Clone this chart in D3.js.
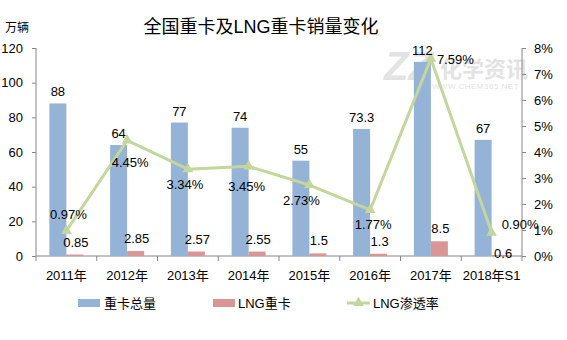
<!DOCTYPE html>
<html><head><meta charset="utf-8">
<script src="https://cdn.jsdelivr.net/npm/d3@7"></script>
<style>
html,body{margin:0;padding:0;background:#fff;}
svg{display:block;font-family:"Liberation Sans",Arial,"Noto Sans CJK SC",sans-serif;}
</style></head>
<body><svg id="c" width="567" height="340"></svg>
<script>
const categories = ["2011年","2012年","2013年","2014年","2015年","2016年","2017年","2018年S1"];
const totalSales = [88,64,77,74,55,73.3,112,67];
const lngSales = [0.85,2.85,2.57,2.55,1.5,1.3,8.5,0.6];
const lngRate = [0.97,4.45,3.34,3.45,2.73,1.77,7.59,0.90];
const leftTicks = [0,20,40,60,80,100,120];
const rightTicks = [0,1,2,3,4,5,6,7,8];
const seriesNames = ["重卡总量","LNG重卡","LNG渗透率"];

const svg = d3.select("#c");
const L = 36, R = 522, T = 48, B = 256;
const blue = "#95B3D7", red = "#D99694", green = "#C3D69B", axisC = "#868686";

const x = d3.scaleBand().domain(categories).range([L, R]).padding(0);
const yL = d3.scaleLinear().domain([0,120]).range([B, T]);
const yR = d3.scaleLinear().domain([0,8]).range([B, T]);
const bw = 17;

// watermark
const wm = svg.append("g").attr("fill","#e3e3e3");
wm.append("text").attr("x",384).attr("y",80).attr("font-size",40).attr("font-weight","bold").attr("font-style","italic").text("ZZ");
wm.append("text").attr("x",440).attr("y",77).attr("font-size",22).attr("font-weight","bold").text("化学资讯");
wm.append("text").attr("x",432).attr("y",89).attr("font-size",8).attr("letter-spacing","0.5").text("WWW.CHEM365.NET");

// title
svg.append("text").attr("x",261).attr("y",33).attr("text-anchor","middle").attr("font-size",18).attr("fill","#000").text("全国重卡及LNG重卡销量变化");
svg.append("text").attr("x",5).attr("y",32).attr("font-size",12).attr("fill","#000").text("万辆");

// axes
const axL = svg.append("g").attr("transform",`translate(${L},0)`)
  .call(d3.axisLeft(yL).tickValues(leftTicks).tickSize(4).tickPadding(9).tickFormat(d3.format("d")));
const axR = svg.append("g").attr("transform",`translate(${R},0)`)
  .call(d3.axisRight(yR).tickValues(rightTicks).tickSize(4).tickPadding(8).tickFormat(d=>d+"%"));
[axL,axR].forEach(a=>{
  a.select(".domain").attr("stroke",axisC).attr("d",`M0,${T}V${B}`);
  a.selectAll(".tick line").attr("stroke",axisC);
  a.selectAll("text").attr("font-size",13).attr("fill","#000").attr("font-family",null);
});
// x axis
const axX = svg.append("g").attr("transform",`translate(0,${B})`);
axX.append("line").attr("x1",L).attr("x2",R).attr("stroke",axisC);
const bounds = categories.map(c=>x(c)).concat([R]);
axX.selectAll("line.tk").data(bounds).enter().append("line").attr("class","tk")
  .attr("x1",d=>d).attr("x2",d=>d).attr("y1",0).attr("y2",5).attr("stroke",axisC);
axX.selectAll("text").data(categories).enter().append("text")
  .attr("x",d=>x(d)+x.bandwidth()/2).attr("y",24).attr("text-anchor","middle")
  .attr("font-size",13).attr("fill","#000").text(d=>d);

// bars
const cx = c => x(c)+x.bandwidth()/2;
svg.selectAll("rect.b").data(totalSales).enter().append("rect").attr("class","b")
  .attr("x",(d,i)=>cx(categories[i])-bw).attr("width",bw)
  .attr("y",d=>yL(d)).attr("height",d=>B-yL(d)).attr("fill",blue);
svg.selectAll("rect.r").data(lngSales).enter().append("rect").attr("class","r")
  .attr("x",(d,i)=>cx(categories[i])).attr("width",bw)
  .attr("y",d=>yL(d)).attr("height",d=>B-yL(d)).attr("fill",red);

// line
const line = d3.line().x((d,i)=>cx(categories[i])).y(d=>yR(d));
svg.append("path").datum(lngRate).attr("d",line).attr("fill","none").attr("stroke",green).attr("stroke-width",3).attr("stroke-linejoin","round");
const tri = d3.symbol().type(d3.symbolTriangle).size(50);
svg.selectAll("path.m").data(lngRate).enter().append("path").attr("class","m")
  .attr("d",tri).attr("fill",green)
  .attr("transform",(d,i)=>`translate(${cx(categories[i])},${yR(d)})`);

// labels
svg.selectAll("text.bl").data(totalSales).enter().append("text").attr("class","bl")
  .attr("x",(d,i)=>cx(categories[i])-bw/2).attr("y",d=>yL(d)-7)
  .attr("text-anchor","middle").attr("font-size",13).attr("fill","#000").text(d=>d);
svg.selectAll("text.rl").data(lngSales).enter().append("text").attr("class","rl")
  .attr("x",(d,i)=>cx(categories[i])+bw/2+(i===7?3:1)).attr("y",(d,i)=>i===7?yL(d)+3:yL(d)-8)
  .attr("text-anchor","middle").attr("font-size",13).attr("fill","#000").text(d=>d);
const ldx = [2,3,-3,-2,-8,3,6,10];
const ldy = [-12,27,20,25,20,19,5,-4];
const lanc = ["middle","middle","middle","middle","middle","middle","start","start"];
svg.selectAll("text.ll").data(lngRate).enter().append("text").attr("class","ll")
  .attr("x",(d,i)=>cx(categories[i])+ldx[i]).attr("y",(d,i)=>yR(d)+ldy[i])
  .attr("text-anchor",(d,i)=>lanc[i]).attr("font-size",13).attr("fill","#000")
  .text(d=>d.toFixed(2)+"%");

// legend
const lg = svg.append("g").attr("font-size",13);
lg.append("rect").attr("x",78).attr("y",299).attr("width",22).attr("height",8).attr("fill",blue);
lg.append("text").attr("x",104).attr("y",308).text(seriesNames[0]);
lg.append("rect").attr("x",213).attr("y",299).attr("width",22).attr("height",8).attr("fill",red);
lg.append("text").attr("x",238).attr("y",308).text(seriesNames[1]);
lg.append("line").attr("x1",347).attr("x2",370).attr("y1",303).attr("y2",303).attr("stroke",green).attr("stroke-width",3);
lg.append("path").attr("d",tri).attr("fill",green).attr("transform","translate(358.5,303)");
lg.append("text").attr("x",373).attr("y",308).text(seriesNames[2]);
</script></body></html>
